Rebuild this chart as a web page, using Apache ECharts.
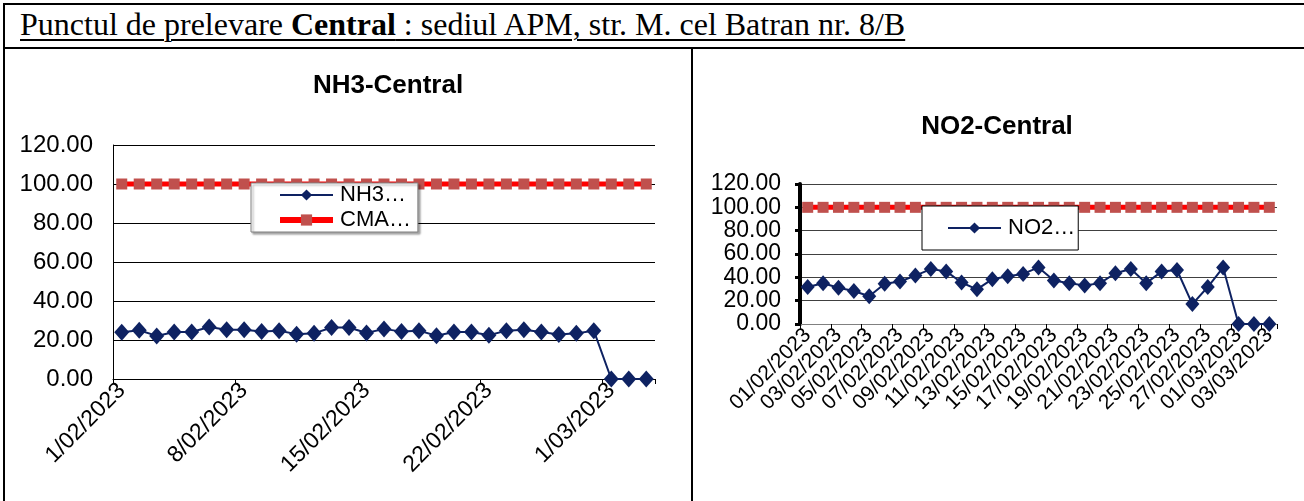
<!DOCTYPE html>
<html>
<head>
<meta charset="utf-8">
<script src="https://cdn.jsdelivr.net/npm/echarts@6/dist/echarts.min.js"></script>
<style>
  html, body { margin: 0; padding: 0; background: #fff; }
  #page { position: relative; width: 1304px; height: 501px; overflow: hidden; background: #fff; }
  .ln { position: absolute; background: #000; }
  #hdr { position: absolute; left: 20px; top: 8px; font-family: "Liberation Serif", serif; font-size: 32px; line-height: 32px; color: #000; text-decoration: underline; text-decoration-thickness: 2px; text-underline-offset: 4px; white-space: nowrap; }
  #chart { position: absolute; left: 0; top: 0; width: 1304px; height: 501px; }
</style>
</head>
<body>
<div id="page">
  <div class="ln" style="left:3px;top:3px;width:1301px;height:2px"></div>
  <div class="ln" style="left:3px;top:47px;width:1301px;height:2px"></div>
  <div class="ln" style="left:3px;top:3px;width:2px;height:498px"></div>
  <div class="ln" style="left:691px;top:47px;width:2px;height:454px"></div>
  <div id="hdr">Punctul de prelevare <b>Central</b> : sediul APM, str. M. cel Batran nr. 8/B</div>
  <div id="chart"></div>
</div>
<script>
// ---- data ----
const dates = ['01/02/2023','02/02/2023','03/02/2023','04/02/2023','05/02/2023','06/02/2023','07/02/2023',
  '08/02/2023','09/02/2023','10/02/2023','11/02/2023','12/02/2023','13/02/2023','14/02/2023',
  '15/02/2023','16/02/2023','17/02/2023','18/02/2023','19/02/2023','20/02/2023','21/02/2023',
  '22/02/2023','23/02/2023','24/02/2023','25/02/2023','26/02/2023','27/02/2023','28/02/2023',
  '01/03/2023','02/03/2023','03/03/2023'];
const nh3Values = [24.0,25.0,22.1,24.1,24.1,26.7,25.2,25.3,24.3,24.8,22.9,23.4,26.4,26.4,
  23.6,25.7,24.3,24.8,22.2,24.1,24.1,22.4,24.8,25.3,24.1,22.8,23.4,24.8,0,0,0];
const no2Values = [31.7,35.0,31.1,28.3,23.8,34.5,36.4,41.5,47.1,45.1,35.6,29.7,38.4,40.9,
  42.9,48.5,37.3,35.0,33.1,35.0,43.5,47.1,35.0,44.9,46.3,17.1,31.7,48.5,0,0,0];
const cmaValues = [100,100,100,100,100,100,100,100,100,100,100,100,100,100,100,100,
  100,100,100,100,100,100,100,100,100,100,100,100,100,100,100];
const seriesNames = ['NH3-Central', 'CMA', 'NO2-Central'];
const titles = ['NH3-Central', 'NO2-Central'];

// ---- styles ----
const FONT = 'Liberation Sans';
const NAVY = '#0E2262';
const RED = '#FF0000';
const SQ = '#C0504D';

const chart = echarts.init(document.getElementById('chart'), null, { renderer: 'canvas' });

const yFmt = v => Number(v).toFixed(2);
const legendText = { fontFamily: FONT, fontSize: 22, lineHeight: 22, color: '#000', padding: [0, 0, 0, 2] };

const option = {
  animation: false,
  backgroundColor: 'transparent',
  title: [
    { text: titles[0], left: 388, top: 73, textAlign: 'center', padding: 0,
      textStyle: { fontFamily: FONT, fontSize: 26, fontWeight: 'bold', color: '#000' } },
    { text: titles[1], left: 997, top: 114, textAlign: 'center', padding: 0,
      textStyle: { fontFamily: FONT, fontSize: 26, fontWeight: 'bold', color: '#000' } }
  ],
  legend: [
    { data: [
        { name: seriesNames[0], lineStyle: { width: 2, color: NAVY } },
        { name: seriesNames[1], lineStyle: { width: 6, color: RED } }
      ],
      orient: 'vertical', left: 251, top: 183,
      padding: [1, 7, 1, 26], itemGap: 3, itemWidth: 53, itemHeight: 14,
      backgroundColor: '#fff', borderColor: '#808080', borderWidth: 1,
      shadowColor: 'rgba(0,0,0,0.35)', shadowBlur: 2, shadowOffsetX: 2, shadowOffsetY: 2,
      formatter: n => n.slice(0, 3) + '…',
      textStyle: legendText },
    { data: [{ name: seriesNames[2], lineStyle: { width: 2, color: NAVY } }],
      orient: 'vertical', left: 922, top: 206,
      padding: [11, 3, 11, 25], itemWidth: 53, itemHeight: 14,
      backgroundColor: '#fff', borderColor: '#000', borderWidth: 1,
      formatter: n => n.slice(0, 3) + '…',
      textStyle: legendText }
  ],
  grid: [
    { left: 113, top: 145, width: 542, height: 234 },
    { left: 800, top: 184, width: 477, height: 140 }
  ],
  xAxis: [
    { type: 'category', gridIndex: 0, data: dates, boundaryGap: true,
      axisLine: { lineStyle: { color: '#000', width: 1 } },
      axisTick: { show: true, interval: 6, length: 5, lineStyle: { color: '#000' } },
      axisLabel: { interval: 6, rotate: 45, margin: 8, fontFamily: FONT, fontSize: 23, color: '#000',
        formatter: v => v.replace(/^0/, '') },
      splitLine: { show: false } },
    { type: 'category', gridIndex: 1, data: dates, boundaryGap: true,
      axisLine: { lineStyle: { color: '#808080', width: 1 } },
      axisTick: { show: true, interval: 1, length: 5, lineStyle: { color: '#000' } },
      axisLabel: { interval: 1, rotate: 45, margin: 8, fontFamily: FONT, fontSize: 21, color: '#000' },
      splitLine: { show: false } }
  ],
  yAxis: [
    { type: 'value', gridIndex: 0, min: 0, max: 120, interval: 20,
      axisLine: { show: true, lineStyle: { color: '#000', width: 1 } },
      axisTick: { show: false },
      axisLabel: { margin: 20, fontFamily: FONT, fontSize: 24, color: '#000', formatter: yFmt },
      splitLine: { lineStyle: { color: '#000', width: 1 } } },
    { type: 'value', gridIndex: 1, min: 0, max: 120, interval: 20,
      axisLine: { show: true, lineStyle: { color: '#000', width: 4 } },
      axisTick: { show: true, length: 5, lineStyle: { color: '#000', width: 3 } },
      axisLabel: { margin: 19, fontFamily: FONT, fontSize: 23, color: '#000', formatter: yFmt },
      splitLine: { lineStyle: { color: '#404040', width: 1 } } }
  ],
  series: [
    { name: seriesNames[1], type: 'line', xAxisIndex: 0, yAxisIndex: 0, data: cmaValues,
      symbol: 'rect', symbolSize: 11, showAllSymbol: true,
      lineStyle: { color: RED, width: 5 }, itemStyle: { color: SQ } },
    { name: seriesNames[0], type: 'line', xAxisIndex: 0, yAxisIndex: 0, data: nh3Values,
      symbol: 'diamond', symbolSize: [15, 17], showAllSymbol: true,
      lineStyle: { color: NAVY, width: 2 }, itemStyle: { color: NAVY } },
    { name: 'CMA NO2', type: 'line', xAxisIndex: 1, yAxisIndex: 1, data: cmaValues,
      symbol: 'rect', symbolSize: 11, showAllSymbol: true,
      lineStyle: { color: RED, width: 5 }, itemStyle: { color: SQ } },
    { name: seriesNames[2], type: 'line', xAxisIndex: 1, yAxisIndex: 1, data: no2Values,
      symbol: 'diamond', symbolSize: [14, 16], showAllSymbol: true,
      lineStyle: { color: NAVY, width: 2 }, itemStyle: { color: NAVY } }
  ]
};
chart.setOption(option);
</script>
</body>
</html>
